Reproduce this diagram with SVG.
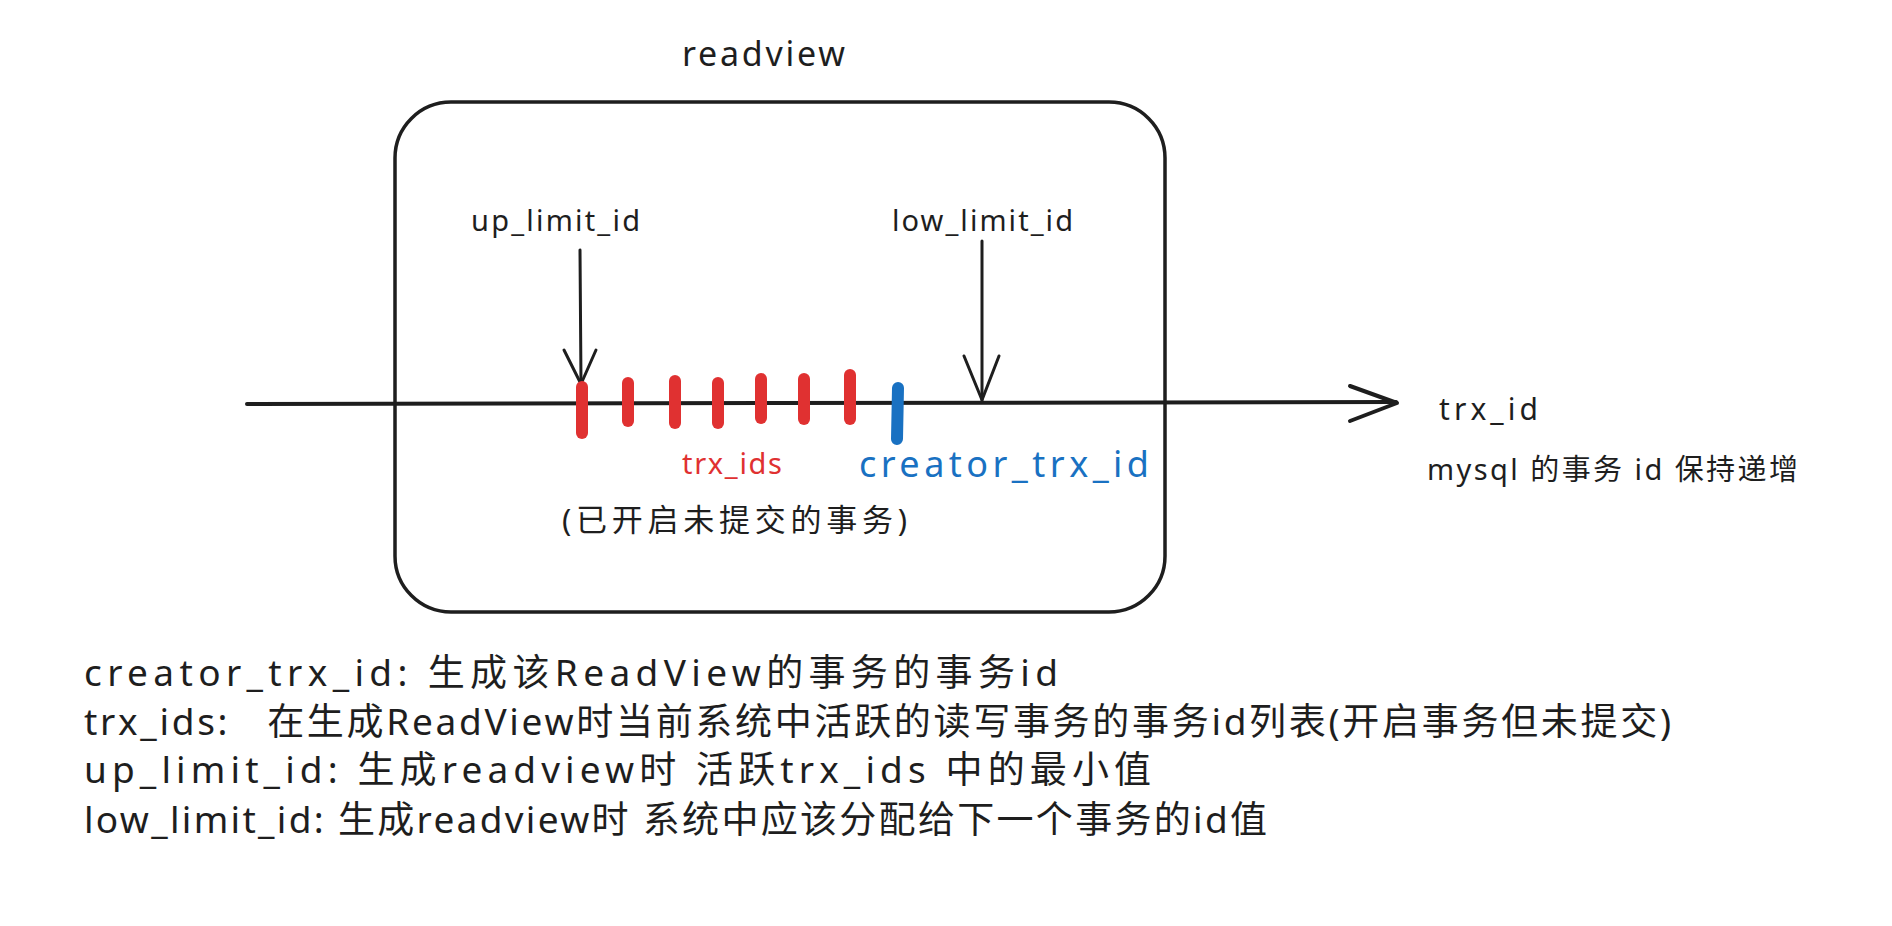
<svg xmlns="http://www.w3.org/2000/svg" width="1892" height="926" viewBox="0 0 1892 926">
<style>
text{font-family:"Noto Sans","Noto Sans CJK SC",sans-serif;fill:#1e1e1e}
.ln{stroke:#1e1e1e;fill:none;stroke-linecap:round;stroke-linejoin:round}
.red{stroke:#e03131;stroke-width:12;stroke-linecap:round}
.blue{stroke:#1971c2;stroke-width:12;stroke-linecap:round}
</style>
<rect width="1892" height="926" fill="#ffffff"/>
<g id="readview-box">
<rect x="395" y="102" width="770" height="510" rx="56" ry="56" class="ln" stroke-width="3.5"/>
<text x="682" y="66" font-size="34" textLength="163" lengthAdjust="spacing">readview</text>
</g>
<g id="connectors">
<path class="ln" stroke-width="4" d="M247 404 L1396 402"/>
<path class="ln" stroke-width="4" d="M1350 386 L1397 403 L1350 421"/>
<path class="ln" stroke-width="3" d="M580 250 L581 384"/>
<path class="ln" stroke-width="3" d="M564 350 L581 384 L596 350"/>
<path class="ln" stroke-width="3" d="M982 241 L982 400"/>
<path class="ln" stroke-width="3" d="M964 356 L982 400 L999 356"/>
</g>
<g id="trx-ids-ticks">
<line class="red" x1="582" y1="387" x2="582" y2="433"/>
<line class="red" x1="628" y1="383" x2="628" y2="421"/>
<line class="red" x1="675" y1="381" x2="675" y2="423"/>
<line class="red" x1="718" y1="383" x2="718" y2="423"/>
<line class="red" x1="761" y1="379" x2="761" y2="418"/>
<line class="red" x1="804" y1="379" x2="804" y2="419"/>
<line class="red" x1="850" y1="375" x2="850" y2="419"/>
</g>
<g id="creator-tick">
<line class="blue" x1="898" y1="388" x2="897" y2="439"/>
</g>
<g id="up-limit-label">
<text x="471" y="231" font-size="29" textLength="169" lengthAdjust="spacing">up_limit_id</text>
</g>
<g id="low-limit-label">
<text x="892" y="231" font-size="29" textLength="181" lengthAdjust="spacing">low_limit_id</text>
</g>
<g id="trx-ids-label">
<text x="682" y="474" font-size="29" textLength="100" lengthAdjust="spacing" style="fill:#e03131">trx_ids</text>
</g>
<g id="creator-label">
<text x="859" y="477" font-size="36" textLength="290" lengthAdjust="spacing" style="fill:#1971c2">creator_trx_id</text>
</g>
<g id="note-label">
<text x="562" y="531" font-size="31" textLength="345" lengthAdjust="spacing">(已开启未提交的事务)</text>
</g>
<g id="axis-label">
<text x="1439" y="420" font-size="30" textLength="99" lengthAdjust="spacing">trx_id</text>
<text x="1427" y="480" font-size="29" textLength="371" lengthAdjust="spacing">mysql 的事务 id 保持递增</text>
</g>
<g id="legend">
<text x="84" y="686" font-size="37" textLength="974" lengthAdjust="spacing">creator_trx_id: 生成该ReadView的事务的事务id</text>
<text x="84" y="735" font-size="37" textLength="1587" lengthAdjust="spacing">trx_ids:&#160;&#160;&#160;在生成ReadView时当前系统中活跃的读写事务的事务id列表(开启事务但未提交)</text>
<text x="84" y="783" font-size="37" textLength="1067" lengthAdjust="spacing">up_limit_id: 生成readview时 活跃trx_ids 中的最小值</text>
<text x="84" y="833" font-size="37" textLength="1183" lengthAdjust="spacing">low_limit_id: 生成readview时 系统中应该分配给下一个事务的id值</text>
</g>
</svg>
